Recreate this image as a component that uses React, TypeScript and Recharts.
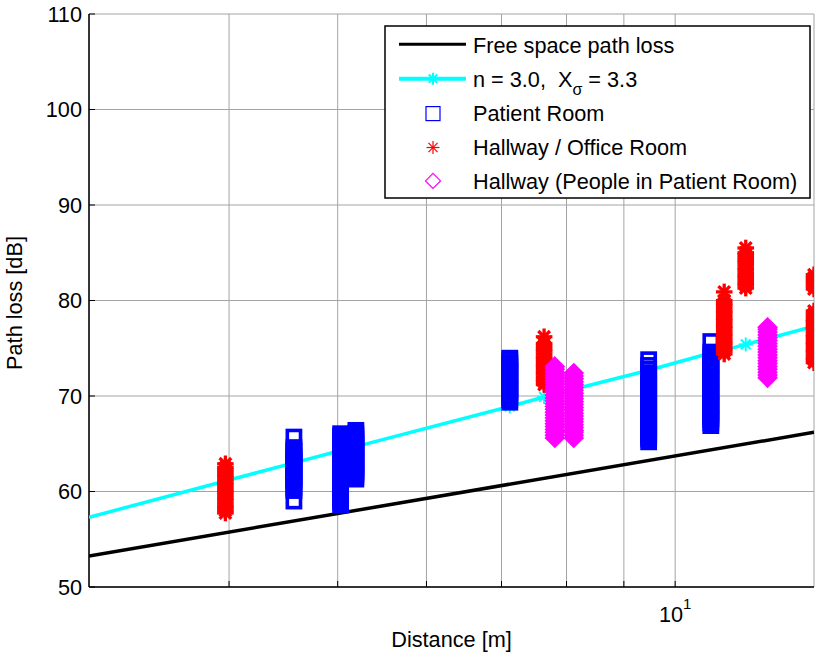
import React from 'react';
import { ScatterChart, Scatter, XAxis, YAxis, CartesianGrid, Label } from 'recharts';

const FONT = '"Liberation Sans", Arial, Helvetica, sans-serif';
const FS = 21.7;

// axis ticks
const xTicks = [4, 5, 6, 7, 8, 9, 10];
const yTicks = [50, 60, 70, 80, 90, 100, 110];

// free space path loss (n = 2)
const fsplDist = [3, 13.3];
const fsplLoss = [53.25, 66.2];

// fitted model n = 3.0
const modelDist = [3, 3.97, 4.57, 5.03, 5.19, 7.12, 7.64, 7.81, 8.12, 9.47, 10.76, 11.06, 11.56, 12.09, 13.3];
const modelLoss = [57.3, 61.1, 63.0, 64.3, 64.7, 68.9, 69.9, 70.2, 70.7, 72.7, 74.5, 74.8, 75.4, 76.0, 77.3];

// Patient Room measurements
const patientDist = [4.57, 5.03, 5.19, 7.12, 9.47, 10.76];
const patientLoss = [
  [59.0, 60.1, 60.4, 60.7, 61.0, 61.3, 61.5, 61.8, 62.1, 62.4, 62.7, 63.0, 63.2, 63.5, 63.8, 64.1, 64.3, 64.6, 65.7],
  [58.6, 58.9, 59.2, 59.4, 59.7, 60.0, 60.3, 60.5, 60.8, 61.1, 61.4, 61.7, 61.9, 62.2, 62.5, 62.8, 63.1, 63.3, 63.6, 63.9, 64.2, 64.5, 64.7, 65.0, 65.3, 65.6, 65.8, 66.05],
  [61.3, 61.6, 61.9, 62.1, 62.4, 62.7, 63.0, 63.3, 63.5, 63.8, 64.1, 64.4, 64.6, 64.9, 65.2, 65.5, 65.8, 66.1, 66.4],
  [69.35, 69.6, 69.9, 70.2, 70.5, 70.7, 71.0, 71.3, 71.6, 71.9, 72.1, 72.4, 72.7, 73.0, 73.3, 73.5, 73.8, 73.96],
  [65.2, 65.5, 65.8, 66.0, 66.3, 66.6, 66.9, 67.2, 67.4, 67.7, 68.0, 68.3, 68.6, 68.8, 69.1, 69.4, 69.7, 70.0, 70.2, 70.5, 70.8, 71.1, 71.4, 71.6, 71.9, 72.2, 72.4, 72.8, 73.2, 73.8],
  [66.9, 67.2, 67.5, 67.7, 68.0, 68.3, 68.6, 68.9, 69.1, 69.4, 69.7, 70.0, 70.3, 70.5, 70.8, 71.1, 71.4, 71.7, 71.9, 72.2, 72.5, 72.8, 73.1, 73.3, 73.6, 73.9, 74.2, 74.6, 75.7],
];

// Hallway / Office Room measurements
const hallDist = [3.97, 7.64, 11.06, 11.56, 13.3];
const hallLoss = [
  [57.75, 58.0, 58.3, 58.5, 58.8, 59.1, 59.3, 59.6, 59.9, 60.1, 60.4, 60.7, 60.9, 61.2, 61.5, 61.7, 62.0, 62.3, 62.5, 62.9],
  [71.2, 71.5, 71.7, 72.0, 72.3, 72.5, 72.8, 73.1, 73.3, 73.6, 73.9, 74.1, 74.4, 74.7, 74.9, 75.2, 75.5, 76.2],
  [74.4, 74.7, 74.9, 75.2, 75.5, 75.7, 76.0, 76.3, 76.5, 76.8, 77.1, 77.3, 77.6, 77.9, 78.1, 78.4, 78.7, 78.9, 79.2, 79.5, 79.7, 80.0, 80.9],
  [81.3, 81.6, 81.8, 82.1, 82.4, 82.6, 82.9, 83.2, 83.4, 83.7, 84.0, 84.2, 84.5, 84.8, 85.0, 85.5],
  [73.5, 73.8, 74.0, 74.3, 74.6, 74.8, 75.1, 75.4, 75.6, 75.9, 76.2, 76.4, 76.7, 77.0, 77.2, 77.5, 77.8, 78.0, 78.3, 78.6, 78.9, 81.2, 81.5, 81.8, 82.1, 82.4, 82.7],
];

// Hallway (People in Patient Room) measurements
const peopleDist = [7.81, 8.12, 12.09];
const peopleLoss = [
  [65.6, 65.9, 66.2, 66.5, 66.8, 67.1, 67.4, 67.7, 68.0, 68.3, 68.6, 68.9, 69.2, 69.5, 69.8, 70.1, 70.4, 70.7, 71.0, 71.3, 71.6, 71.9, 72.2, 72.5, 72.8, 73.1],
  [65.6, 65.9, 66.2, 66.4, 66.7, 67.0, 67.3, 67.6, 67.9, 68.2, 68.5, 68.8, 69.1, 69.4, 69.7, 70.0, 70.3, 70.6, 70.9, 71.2, 71.5, 71.8, 72.1, 72.4],
  [71.9, 72.2, 72.5, 72.8, 73.1, 73.4, 73.7, 74.0, 74.3, 74.6, 74.9, 75.2, 75.5, 75.8, 76.1, 76.4, 76.7, 77.0, 77.2],
];

const toPoints = (dist: number[], loss: number[]) => dist.map((d, i) => ({ d, pl: loss[i] }));
const toCloud = (dist: number[], loss: number[][]) =>
  dist.flatMap((d, i) => loss[i].map((pl) => ({ d, pl })));

const fsplData = toPoints(fsplDist, fsplLoss);
const modelData = toPoints(modelDist, modelLoss);
const patientData = toCloud(patientDist, patientLoss);
const hallData = toCloud(hallDist, hallLoss);
const peopleData = toCloud(peopleDist, peopleLoss);

const X_MIN = 3;
const X_MAX = 13.3;

function Star({ cx, cy, r, color, w }: any) {
  const q = r * 0.7;
  return (
    <g stroke={color} strokeWidth={w}>
      <line x1={cx - r} y1={cy} x2={cx + r} y2={cy} />
      <line x1={cx} y1={cy - r} x2={cx} y2={cy + r} />
      <line x1={cx - q} y1={cy - q} x2={cx + q} y2={cy + q} />
      <line x1={cx - q} y1={cy + q} x2={cx + q} y2={cy - q} />
    </g>
  );
}

function Square({ cx, cy, s, w }: any) {
  return <rect x={cx - s} y={cy - s} width={2 * s} height={2 * s} fill="none" stroke="#0000ff" strokeWidth={w} />;
}

function Diamond({ cx, cy, s, w }: any) {
  return (
    <polygon
      points={`${cx},${cy - s} ${cx + s},${cy} ${cx},${cy + s} ${cx - s},${cy}`}
      fill="none"
      stroke="#ff00ff"
      strokeWidth={w}
    />
  );
}

const patientShape = (p: any) => <Square cx={p.cx} cy={p.cy} s={6.6} w={3.6} />;
const hallShape = (p: any) => <Star cx={p.cx} cy={p.cy} r={8.3} color="#ff0000" w={3.3} />;
const peopleShape = (p: any) => <Diamond cx={p.cx} cy={p.cy} s={8.2} w={3} />;
const modelShape = (p: any) => {
  const d = p.payload ? p.payload.d : p.d;
  if (d === X_MIN || d === X_MAX) return <g />;
  return <Star cx={p.cx} cy={p.cy} r={7} color="#00ffff" w={2} />;
};
const noShape = () => <g />;

function XTick({ x, y, payload }: any) {
  return (
    <g>
      <line x1={x} y1={y} x2={x} y2={y - 6} stroke="#000" strokeWidth={1} />
      {payload.value === 10 && (
        <text x={x} y={y + 35} textAnchor="middle" fontFamily={FONT} fontSize={FS} fill="#000">
          10
          <tspan dy={-13} fontSize={15}>1</tspan>
        </text>
      )}
    </g>
  );
}

function YTick({ x, y, payload }: any) {
  return (
    <g>
      <line x1={x} y1={y} x2={x + 6} y2={y} stroke="#000" strokeWidth={1} />
      <text x={x - 7} y={y + 7.5} textAnchor="end" fontFamily={FONT} fontSize={FS} fill="#000">
        {payload.value}
      </text>
    </g>
  );
}

function TopTick({ x, y }: any) {
  return <line x1={x} y1={y} x2={x} y2={y + 6} stroke="#000" strokeWidth={1} />;
}

function RightTick({ x, y }: any) {
  return <line x1={x} y1={y} x2={x - 6} y2={y} stroke="#000" strokeWidth={1} />;
}

function ChartLegend() {
  const rows = [28.3, 62.2, 96.1, 130, 163.9];
  const tx = 89;
  return (
    <svg
      width={427}
      height={174}
      style={{ position: 'absolute', left: 384, top: 25, fontFamily: FONT }}
    >
      <rect x={1} y={1} width={425} height={172} fill="#fff" stroke="#000" strokeWidth={1.5} />
      <line x1={15} y1={rows[0] - 9} x2={82} y2={rows[0] - 9} stroke="#000" strokeWidth={3} />
      <text x={tx} y={rows[0]} fontSize={FS}>Free space path loss</text>
      <line x1={15} y1={rows[1] - 8.5} x2={82} y2={rows[1] - 8.5} stroke="#00ffff" strokeWidth={4} />
      <Star cx={49} cy={rows[1] - 8.5} r={6} color="#00ffff" w={2} />
      <text x={tx} y={rows[1]} fontSize={FS} style={{ whiteSpace: 'pre' }}>
        {'n = 3.0,  X'}
        <tspan dy={8} fontSize={16}>σ</tspan>
        <tspan dy={-8}>{' = 3.3'}</tspan>
      </text>
      <Square cx={49} cy={rows[2] - 7.5} s={7} w={1.2} />
      <text x={tx} y={rows[2]} fontSize={FS}>Patient Room</text>
      <Star cx={49} cy={rows[3] - 7.5} r={6.5} color="#ff0000" w={1.2} />
      <text x={tx} y={rows[3]} fontSize={FS}>Hallway / Office Room</text>
      <Diamond cx={49} cy={rows[4] - 8} s={7.5} w={1.2} />
      <text x={tx} y={rows[4]} fontSize={FS}>Hallway (People in Patient Room)</text>
    </svg>
  );
}

export default function App() {
  return (
    <div style={{ position: 'absolute', left: 0, top: 0, width: 816, height: 660, background: '#fff' }}>
      <ScatterChart width={816} height={660} margin={{ top: 14, right: 2, bottom: 33, left: 0 }}>
        <CartesianGrid stroke="#a4a4a4" strokeWidth={1} />
        <XAxis
          dataKey="d"
          type="number"
          scale="log"
          domain={[X_MIN, X_MAX]}
          allowDataOverflow
          ticks={xTicks}
          tick={<XTick />}
          tickLine={false}
          tickSize={0}
          tickMargin={0}
          height={40}
          axisLine={{ stroke: '#000', strokeWidth: 1.5 }}
        >
          <Label
            content={() => (
              <text x={451.5} y={647} textAnchor="middle" fontFamily={FONT} fontSize={FS} fill="#000">
                Distance [m]
              </text>
            )}
          />
        </XAxis>
        <XAxis
          xAxisId="top"
          orientation="top"
          dataKey="d"
          type="number"
          scale="log"
          domain={[X_MIN, X_MAX]}
          allowDataOverflow
          ticks={xTicks}
          tick={<TopTick />}
          tickLine={false}
          tickSize={0}
          tickMargin={0}
          height={0}
          axisLine={{ stroke: '#000', strokeWidth: 1.5 }}
        />
        <YAxis
          dataKey="pl"
          type="number"
          domain={[50, 110]}
          allowDataOverflow
          ticks={yTicks}
          tick={<YTick />}
          tickLine={false}
          tickSize={0}
          tickMargin={0}
          width={89}
          axisLine={{ stroke: '#000', strokeWidth: 1.5 }}
        >
          <Label
            content={() => (
              <text
                x={22}
                y={303}
                transform="rotate(-90 22 303)"
                textAnchor="middle"
                fontFamily={FONT}
                fontSize={FS}
                fill="#000"
              >
                Path loss [dB]
              </text>
            )}
          />
        </YAxis>
        <YAxis
          yAxisId="right"
          orientation="right"
          dataKey="pl"
          type="number"
          domain={[50, 110]}
          allowDataOverflow
          ticks={yTicks}
          tick={<RightTick />}
          tickLine={false}
          tickSize={0}
          tickMargin={0}
          width={0}
          axisLine={{ stroke: '#000', strokeWidth: 1.5 }}
        />
        <Scatter
          name="Free space path loss"
          data={fsplData}
          line={{ stroke: '#000', strokeWidth: 3.5 }}
          shape={noShape}
          isAnimationActive={false}
        />
        <Scatter
          name="n = 3.0"
          data={modelData}
          line={{ stroke: '#00ffff', strokeWidth: 3.5 }}
          shape={modelShape}
          isAnimationActive={false}
        />
        <Scatter name="Patient Room" data={patientData} shape={patientShape} isAnimationActive={false} />
        <Scatter name="Hallway / Office Room" data={hallData} shape={hallShape} isAnimationActive={false} />
        <Scatter
          name="Hallway (People in Patient Room)"
          data={peopleData}
          shape={peopleShape}
          isAnimationActive={false}
        />
      </ScatterChart>
      <ChartLegend />
    </div>
  );
}
